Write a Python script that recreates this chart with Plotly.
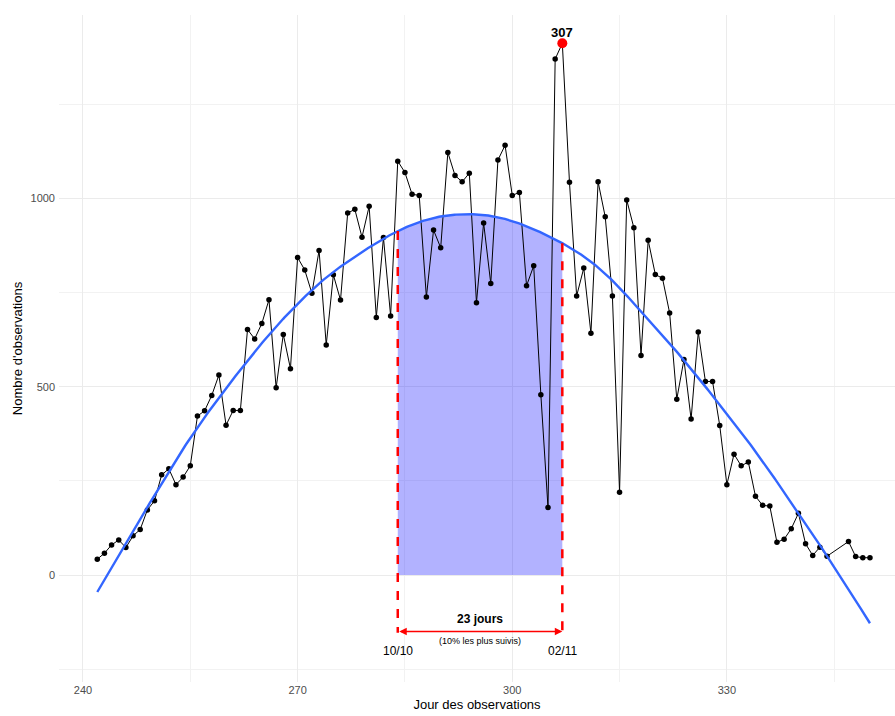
import numpy as np
import plotly.graph_objects as go

# ---- data ----
days = list(range(242, 345)) + [347, 348, 349, 350]
counts = [42, 58, 80, 93, 73, 104, 121, 173, 197, 266,
          282, 240, 260, 290, 422, 436, 477, 531, 398, 437,
          437, 652, 627, 668, 731, 497, 639, 548, 843, 810,
          748, 862, 611, 797, 730, 961, 971, 897, 979, 684,
          896, 688, 1099, 1069, 1011, 1008, 738, 916, 869, 1122,
          1061, 1044, 1067, 723, 935, 774, 1102, 1141, 1008, 1016,
          768, 821, 479, 179, 1370, 1412, 1043, 741, 815, 642,
          1044, 951, 741, 220, 996, 922, 583, 889, 798, 788,
          696, 467, 572, 414, 645, 514, 514, 397, 240, 321,
          290, 300, 209, 185, 183, 87, 95, 123, 164, 83,
          52, 74, 50, 89, 49, 46, 46]

# smoothed trend
smooth_days = [242, 246, 250, 254, 258, 262, 266, 270, 274, 278, 282, 286, 290,
               294, 298, 302, 306, 310, 314, 318, 322, 326, 330, 334, 338, 342, 346, 350]
smooth_vals = [-45, 85, 212, 335, 445, 545, 638, 720, 790, 845, 893, 930, 952,
               958, 950, 926, 891, 846, 782, 700, 615, 524, 428, 328, 220, 108, -8, -128]

peak_day = 307
start_day, end_day = 284, 307
start_label, end_label = "10/10", "02/11"
span_label = "23 jours"
span_sub = "(10% les plus suivis)"

x_ticks = [240, 270, 300, 330]
y_ticks = [0, 500, 1000]


def natural_cubic(xk, yk, xs):
    xk = np.asarray(xk, float); yk = np.asarray(yk, float)
    n = len(xk); h = np.diff(xk)
    A = np.zeros((n, n)); b = np.zeros(n)
    A[0, 0] = 1; A[-1, -1] = 1
    for i in range(1, n - 1):
        A[i, i - 1] = h[i - 1]; A[i, i] = 2 * (h[i - 1] + h[i]); A[i, i + 1] = h[i]
        b[i] = 3 * ((yk[i + 1] - yk[i]) / h[i] - (yk[i] - yk[i - 1]) / h[i - 1])
    c = np.linalg.solve(A, b)
    bc = (yk[1:] - yk[:-1]) / h - h * (2 * c[:-1] + c[1:]) / 3
    d = (c[1:] - c[:-1]) / (3 * h)
    idx = np.clip(np.searchsorted(xk, xs, side="right") - 1, 0, n - 2)
    dx = xs - xk[idx]
    return yk[idx] + bc[idx] * dx + c[idx] * dx ** 2 + d[idx] * dx ** 3


xs = np.linspace(smooth_days[0], smooth_days[-1], 600)
ys = natural_cubic(smooth_days, smooth_vals, xs)
xf = np.linspace(start_day, end_day, 200)
yf = natural_cubic(smooth_days, smooth_vals, xf)
y_start = float(natural_cubic(smooth_days, smooth_vals, np.array([start_day]))[0])
y_end = float(natural_cubic(smooth_days, smooth_vals, np.array([end_day]))[0])
peak_val = counts[days.index(peak_day)]

arrow_y = -150
FONT = "Liberation Sans, Arial, sans-serif"

fig = go.Figure()
# shaded area under the trend
fig.add_trace(go.Scatter(x=xf, y=yf, mode="lines", line=dict(width=0),
                         fill="tozeroy", fillcolor="rgba(0,0,255,0.3)",
                         hoverinfo="skip", showlegend=False))
# observations
fig.add_trace(go.Scatter(x=days, y=counts, mode="lines+markers",
                         line=dict(color="black", width=1),
                         marker=dict(color="black", size=5.5),
                         showlegend=False))
# trend curve
fig.add_trace(go.Scatter(x=xs, y=ys, mode="lines",
                         line=dict(color="#3366FF", width=2.4), showlegend=False))
# dashed red limits
for d0, y0 in [(start_day, y_start), (end_day, y_end)]:
    fig.add_trace(go.Scatter(x=[d0, d0], y=[y0, arrow_y - 3], mode="lines",
                             line=dict(color="red", width=2.5, dash="dash"),
                             showlegend=False))
# peak point
fig.add_trace(go.Scatter(x=[peak_day], y=[peak_val], mode="markers",
                         marker=dict(color="red", size=10), showlegend=False))

annotations = [
    dict(x=peak_day, y=peak_val, text=f"<b>{peak_day}</b>", showarrow=False,
         yshift=11, font=dict(size=13, color="black", family=FONT)),
    dict(x=end_day, y=arrow_y, ax=start_day, ay=arrow_y, axref="x", ayref="y",
         xref="x", yref="y", text="", showarrow=True, arrowside="end+start",
         arrowhead=2, arrowsize=1, arrowwidth=1.5, arrowcolor="red",
         standoff=0, startstandoff=0),
    dict(x=(start_day + end_day) / 2, y=-117, text=f"<b>{span_label}</b>",
         showarrow=False, font=dict(size=12, color="black", family=FONT)),
    dict(x=(start_day + end_day) / 2, y=-174, text=span_sub,
         showarrow=False, font=dict(size=9, color="black", family=FONT)),
    dict(x=start_day, y=-202, text=start_label, showarrow=False,
         font=dict(size=12, color="black", family=FONT)),
    dict(x=end_day, y=-202, text=end_label, showarrow=False,
         font=dict(size=12, color="black", family=FONT)),
]

fig.update_layout(
    width=895, height=716,
    margin=dict(l=59, r=0, t=15, b=34),
    plot_bgcolor="white", paper_bgcolor="white",
    font=dict(family=FONT),
    annotations=annotations,
    xaxis=dict(range=[236.65, 353.5], tickvals=x_ticks, showline=False, zeroline=False,
               gridcolor="#ebebeb", gridwidth=1.1,
               minor=dict(dtick=15, tick0=240, showgrid=True, gridcolor="#f2f2f2", gridwidth=0.6),
               tickfont=dict(size=11, color="#4d4d4d"),
               title=dict(text="Jour des observations", font=dict(size=13, color="black"), standoff=4)),
    yaxis=dict(range=[-284, 1487], tickvals=y_ticks, showline=False, zeroline=False,
               gridcolor="#ebebeb", gridwidth=1.1,
               minor=dict(dtick=250, tick0=0, showgrid=True, gridcolor="#f2f2f2", gridwidth=0.6),
               tickfont=dict(size=11, color="#4d4d4d"), ticklabelstandoff=3,
               title=dict(text="Nombre d'observations", font=dict(size=13, color="black"), standoff=4)),
)

fig.write_html("out.html")
